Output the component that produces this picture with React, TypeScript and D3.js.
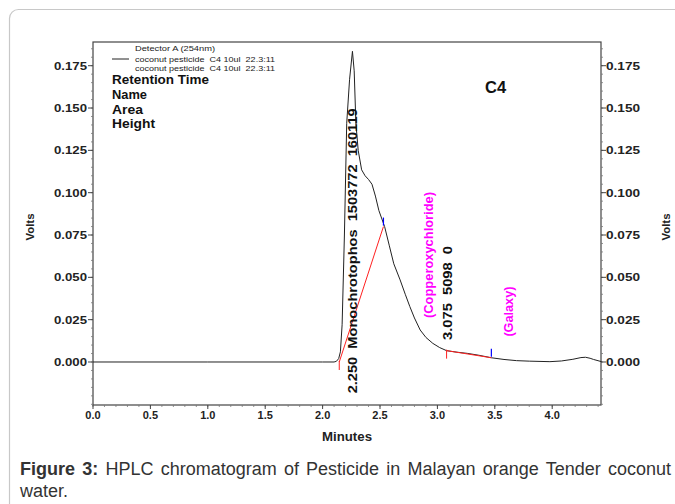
import React from "react";
import * as d3 from "d3";

// Chromatogram trace (minutes, volts)
const traceTime = [0, 1.0, 2.0, 2.10, 2.12, 2.14, 2.155, 2.17, 2.19, 2.21, 2.235, 2.26, 2.275, 2.29, 2.31, 2.34, 2.37, 2.40, 2.43, 2.46, 2.49, 2.54, 2.58, 2.62, 2.675, 2.72, 2.76, 2.80, 2.85, 2.90, 2.96, 3.02, 3.08, 3.17, 3.26, 3.36, 3.47, 3.58, 3.69, 3.80, 3.98, 4.08, 4.18, 4.25, 4.29, 4.33, 4.36, 4.43];
const traceVolts = [0, 0, 0, 0, 0.0004, 0.002, 0.006, 0.022, 0.075, 0.141, 0.167, 0.1835, 0.172, 0.141, 0.125, 0.1135, 0.1100, 0.1078, 0.1050, 0.098, 0.0895, 0.080, 0.069, 0.058, 0.0485, 0.040, 0.0327, 0.026, 0.0189, 0.0145, 0.011, 0.0085, 0.0067, 0.0058, 0.0051, 0.0040, 0.0025, 0.0015, 0.0008, 0.0005, 0.0002, 0.0006, 0.0016, 0.0026, 0.0028, 0.0022, 0.0015, 0.0002];

// Integration baselines: [startTime, startVolts] -> [endTime, endVolts]
const baselineStart = [[2.145, 0.0], [3.08, 0.0067]];
const baselineEnd = [[2.53, 0.080], [3.47, 0.0025]];

// Peak annotations
const peakLabels = ["2.250  Monochrotophos  1503772  160119", "3.075  5098  0"];
const peakLabelTimes = [2.25, 3.075];
const peakLabelStartVolts = [-0.0185, 0.013];
const peakLabelLengths = [285, 94];
const compoundLabels = ["(Copperoxychloride)", "(Galaxy)"];
const compoundLabelTimes = [2.91, 3.61];
const compoundLabelStartVolts = [0.026, 0.015];
const compoundLabelLengths = [126, 50];

const xTicks = [0, 0.5, 1.0, 1.5, 2.0, 2.5, 3.0, 3.5, 4.0];
const yTicks = [0, 0.025, 0.05, 0.075, 0.1, 0.125, 0.15, 0.175];

const legendTitle = "Detector A (254nm)";
const legendLines = ["coconut pesticide  C4 10ul  22.3:11", "coconut pesticide  C4 10ul  22.3:11"];
const infoLabels = ["Retention Time", "Name", "Area", "Height"];
const infoLengths = [97, 35, 31, 43];

export default function App() {
  const L = 93, R = 601, T = 42, B = 405;
  const x = d3.scaleLinear().domain([0, 4.425]).range([L, R]);
  const y = d3.scaleLinear().domain([-0.0254, 0.189]).range([B, T]);

  const data = traceTime.map((t, i) => [t, traceVolts[i]] as [number, number]);
  const line = d3.line<[number, number]>().x(d => x(d[0])).y(d => y(d[1]));

  const xMinor = d3.range(0, 4.4001, 0.1);
  const yMinor = d3.range(-0.025, 0.1851, 0.005);
  const font = "'Liberation Sans', Arial, sans-serif";
  const axisColor = "#444";

  return (
    <svg width={675} height={504} style={{ position: "absolute", left: 0, top: 0, background: "#fff" }} fontFamily={font}>
      <rect x={9.5} y={9.5} width={700} height={520} rx={9} fill="#fff" stroke="#c8c8c8" strokeWidth={1.2} />

      {/* frame */}
      <rect x={L} y={T} width={R - L} height={B - T} fill="none" stroke={axisColor} strokeWidth={1.2} />

      {/* y axes ticks */}
      {yMinor.map((v, i) => (
        <g key={"ym" + i}>
          <line x1={L - 2} x2={L} y1={y(v)} y2={y(v)} stroke="#777" strokeWidth={0.8} />
          <line x1={R} x2={R + 2} y1={y(v)} y2={y(v)} stroke="#777" strokeWidth={0.8} />
        </g>
      ))}
      {yTicks.map((v, i) => (
        <g key={"y" + i}>
          <line x1={L - 5} x2={L} y1={y(v)} y2={y(v)} stroke={axisColor} strokeWidth={1} />
          <line x1={R} x2={R + 5} y1={y(v)} y2={y(v)} stroke={axisColor} strokeWidth={1} />
          <text x={L - 6} y={y(v)} dy="0.35em" textAnchor="end" fontSize={11} fontWeight="bold" fill="#222" textLength={33} lengthAdjust="spacingAndGlyphs">{v.toFixed(3)}</text>
          <text x={R + 5} y={y(v)} dy="0.35em" textAnchor="start" fontSize={11} fontWeight="bold" fill="#222" textLength={34} lengthAdjust="spacingAndGlyphs">{v.toFixed(3)}</text>
        </g>
      ))}

      {/* x axis ticks */}
      {xMinor.map((v, i) => (
        <line key={"xm" + i} x1={x(v)} x2={x(v)} y1={B} y2={B + 2} stroke="#777" strokeWidth={0.8} />
      ))}
      {xTicks.map((v, i) => (
        <g key={"x" + i}>
          <line x1={x(v)} x2={x(v)} y1={B} y2={B + 4} stroke={axisColor} strokeWidth={1} />
          <text x={x(v)} y={B + 14} textAnchor="middle" fontSize={11} fontWeight="bold" fill="#222">{v.toFixed(1)}</text>
        </g>
      ))}

      <text x={347} y={441} textAnchor="middle" fontSize={12} fontWeight="bold" fill="#222" textLength={50} lengthAdjust="spacingAndGlyphs">Minutes</text>
      <text transform="translate(34,227) rotate(-90)" textAnchor="middle" fontSize={11.5} fontWeight="bold" fill="#222" textLength={27} lengthAdjust="spacingAndGlyphs">Volts</text>
      <text transform="translate(670,227) rotate(-90)" textAnchor="middle" fontSize={11.5} fontWeight="bold" fill="#222" textLength={27} lengthAdjust="spacingAndGlyphs">Volts</text>

      {/* trace */}
      <path d={line(data) || ""} fill="none" stroke="#222" strokeWidth={1} />

      {/* integration baselines */}
      {baselineStart.map((s, i) => {
        const e = baselineEnd[i];
        return (
          <g key={"bl" + i}>
            <line x1={x(s[0])} y1={y(s[1])} x2={x(e[0])} y2={y(e[1])} stroke="#ff2020" strokeWidth={1} />
            <line x1={x(s[0])} y1={y(s[1]) - 1} x2={x(s[0])} y2={y(s[1]) + 8} stroke="#ff2020" strokeWidth={1} />
            <line x1={x(e[0])} y1={y(e[1]) - 1} x2={x(e[0])} y2={y(e[1]) - 9} stroke="#0000ff" strokeWidth={1.2} />
          </g>
        );
      })}

      {/* peak labels */}
      {peakLabels.map((s, i) => (
        <text key={"pl" + i} transform={`translate(${x(peakLabelTimes[i]) + 6},${y(peakLabelStartVolts[i])}) rotate(-90)`}
          fontSize={12} fontWeight="bold" fill="#111" style={{ whiteSpace: "pre" }}
          textLength={peakLabelLengths[i]} lengthAdjust="spacingAndGlyphs">{s}</text>
      ))}
      {compoundLabels.map((s, i) => (
        <text key={"cl" + i} transform={`translate(${x(compoundLabelTimes[i]) + 6},${y(compoundLabelStartVolts[i])}) rotate(-90)`}
          fontSize={12} fontWeight="bold" fill="#ff00ff"
          textLength={compoundLabelLengths[i]} lengthAdjust="spacingAndGlyphs">{s}</text>
      ))}

      {/* legend */}
      <text x={135} y={51} fontSize={8} fill="#222" textLength={80} lengthAdjust="spacingAndGlyphs">{legendTitle}</text>
      <line x1={112} x2={129} y1={59} y2={59} stroke="#222" strokeWidth={1} />
      {legendLines.map((s, i) => (
        <text key={"lg" + i} x={135} y={62 + i * 9} fontSize={8} fill="#222" style={{ whiteSpace: "pre" }}
          textLength={140} lengthAdjust="spacingAndGlyphs">{s}</text>
      ))}
      {infoLabels.map((s, i) => (
        <text key={"il" + i} x={112} y={84 + i * 14.8} fontSize={12} fontWeight="bold" fill="#111"
          textLength={infoLengths[i]} lengthAdjust="spacingAndGlyphs">{s}</text>
      ))}
      <text x={485} y={93} fontSize={16.5} fontWeight="bold" fill="#111">C4</text>

      {/* caption (justified first line) */}
      <text x={20} y={475} fontSize={18} fill="#333" wordSpacing={2.2}>
        <tspan fontWeight="bold">Figure 3:</tspan> HPLC chromatogram of Pesticide in Malayan orange Tender coconut
      </text>
      <text x={20} y={497} fontSize={18} fill="#333">water.</text>
    </svg>
  );
}
